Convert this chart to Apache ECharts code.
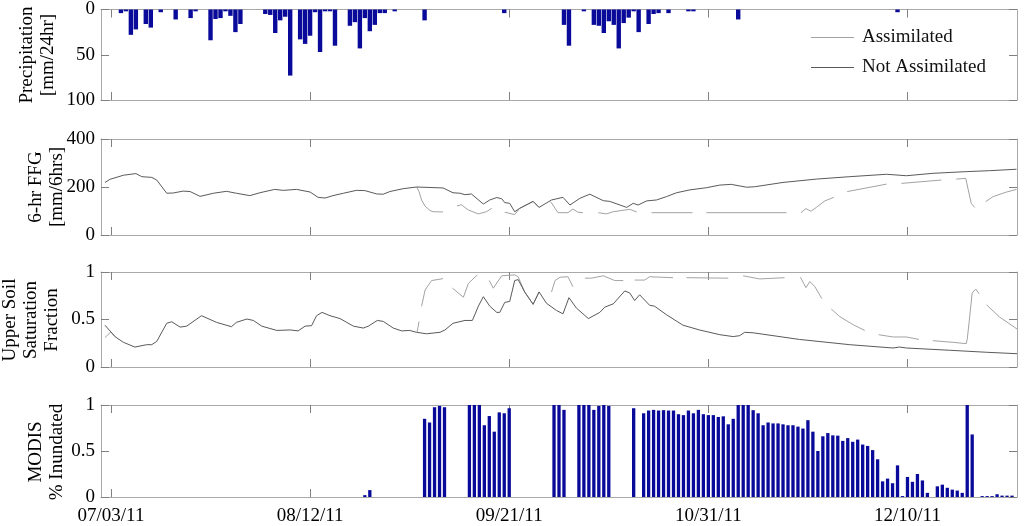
<!DOCTYPE html>
<html>
<head>
<meta charset="utf-8">
<script src="https://cdn.jsdelivr.net/npm/echarts@6/dist/echarts.min.js"></script>
<style>
  html, body { margin: 0; padding: 0; background: #fff; }
  #chart { width: 1024px; height: 526px; }
</style>
</head>
<body>
<div id="chart"></div>
<script>
// x values are days since 07/01/11
const tickDays = [2, 42, 82, 122, 162]
const tickLabels = ['07/03/11', '08/12/11', '09/21/11', '10/31/11', '12/10/11']

// daily precipitation [mm/24hr]
const precipDays = [4, 5, 6, 7, 9, 10, 12, 15, 18, 19, 22, 23, 24, 25, 26, 27, 28, 33, 34, 35, 36, 37, 38,
  40, 41, 42, 43, 44, 45, 46, 47, 50, 51, 52, 53, 54, 55, 56, 57, 59, 65, 81, 93, 94, 97,
  99, 100, 101, 102, 103, 104, 105, 106, 107, 108, 110, 111, 112, 114, 118, 119, 128, 160]
const precipMm = [4, 2, 28, 22, 16, 20, 3, 11, 9.5, 2, 34, 10.5, 9.5, 2, 7, 25, 16, 5, 6, 26, 12, 8, 73,
  33, 38, 29, 3, 47, 2, 2, 40, 18, 14, 43, 9.5, 24, 17, 4, 4, 2, 12, 4, 17, 40, 2,
  17, 18, 26, 13, 17, 43, 15, 9, 2, 25, 16, 5, 4, 4, 2, 2, 11, 3]

// 6-hr flash flood guidance [mm/6hrs], [day, value]
const ffgNotAssim = [[0.8, 219], [1.8, 232], [4.5, 249], [7.0, 256], [8.2, 243], [10.2, 240], [11.2, 229],
  [13.2, 174], [14.5, 175], [16.5, 183], [17.9, 181], [19.9, 161], [22.6, 174], [25.2, 182], [27.2, 174],
  [29.9, 164], [31.9, 176], [34.9, 190], [36.6, 186], [39.3, 190], [42.0, 179], [43.6, 157], [45.0, 154],
  [46.6, 164], [48.7, 174], [51.3, 186], [53.0, 185], [55.4, 171], [56.7, 170], [58.0, 181], [60.7, 193],
  [63.4, 200], [68.7, 196], [70.7, 176], [72.1, 174], [73.1, 168], [74.4, 171], [76.8, 129], [78.1, 146],
  [79.5, 156], [80.5, 151], [81.1, 135], [82.1, 132], [83.1, 97], [84.1, 111], [86.8, 140], [88.0, 115],
  [90.5, 146], [92.8, 157], [94.2, 125], [96.2, 153], [98.2, 170], [100.9, 143], [102.2, 140], [105.6, 115],
  [106.9, 132], [107.9, 125], [109.6, 142], [111.6, 146], [113.6, 160], [115.6, 176], [118.3, 188],
  [121.6, 197], [124.3, 208], [126.6, 211], [129.7, 199], [131.3, 201], [137.0, 219], [143.7, 233],
  [150.4, 243], [157.8, 253], [161.8, 247], [167.1, 257], [173.8, 264], [178.5, 268], [183.9, 274]]
const ffgAssim = [
  [[63.4, 200], [63.9, 180], [64.4, 146], [65.1, 120], [66.1, 102], [66.7, 97], [68.7, 96]],
  [[71.5, 121], [72.4, 126], [73.8, 104], [75.8, 88], [77.4, 97], [78.5, 111]],
  [[81.1, 95], [83.1, 85], [84.1, 111], [86.8, 140], [88.0, 115]],
  [[90.3, 139], [91.8, 93], [93.8, 93], [94.8, 108], [95.8, 95], [96.8, 93]],
  [[99.9, 93], [101.5, 88], [102.9, 97], [106.2, 107], [107.6, 96]],
  [[110.6, 93], [118.8, 93]],
  [[121.6, 93], [137.7, 93]],
  [[140.6, 93], [141.6, 110], [142.6, 99], [143.7, 115], [145.4, 142], [147.2, 157]],
  [[149.9, 181], [157.8, 212]],
  [[160.8, 215], [168.8, 229]],
  [[171.8, 233], [173.7, 236], [174.8, 132], [175.5, 115]],
  [[177.7, 139], [179.2, 160], [181.9, 179], [183.9, 190]]
]

// upper soil saturation fraction, [day, value]
const soilNotAssim = [[0.8, 0.44], [2.8, 0.32], [4.5, 0.26], [6.8, 0.21], [9.2, 0.235], [10.2, 0.235],
  [11.2, 0.27], [13.2, 0.46], [14.2, 0.476], [15.9, 0.42], [17.2, 0.43], [20.2, 0.54], [23.2, 0.47],
  [26.2, 0.424], [27.2, 0.47], [29.3, 0.505], [30.6, 0.49], [32.3, 0.43], [35.3, 0.385], [38.0, 0.39],
  [39.6, 0.38], [41.0, 0.43], [42.3, 0.435], [43.3, 0.54], [44.4, 0.575], [46.0, 0.54], [48.0, 0.51],
  [50.7, 0.43], [52.7, 0.41], [53.7, 0.43], [55.5, 0.49], [56.7, 0.48], [58.7, 0.41], [60.4, 0.38],
  [62.0, 0.385], [63.4, 0.365], [65.4, 0.35], [68.1, 0.365], [69.1, 0.39], [70.7, 0.46], [73.1, 0.49],
  [74.6, 0.49], [75.8, 0.64], [76.8, 0.74], [78.1, 0.64], [79.5, 0.575], [80.1, 0.575], [81.1, 0.68],
  [82.1, 0.69], [83.1, 0.91], [83.8, 0.92], [85.1, 0.79], [86.8, 0.66], [88.0, 0.79], [89.5, 0.67],
  [91.5, 0.595], [92.8, 0.56], [94.0, 0.73], [95.5, 0.62], [97.9, 0.51], [100.2, 0.575], [101.2, 0.63],
  [102.9, 0.665], [105.2, 0.80], [106.2, 0.78], [107.2, 0.70], [108.2, 0.76], [110.2, 0.65], [111.2, 0.64],
  [113.6, 0.55], [116.9, 0.44], [120.2, 0.39], [124.3, 0.34], [127.0, 0.32], [128.3, 0.33], [129.3, 0.365],
  [131.0, 0.36], [140.3, 0.29], [150.4, 0.235], [159.1, 0.20], [160.4, 0.21], [161.8, 0.20], [170.5, 0.176],
  [177.9, 0.155], [184, 0.14]]
const soilAssim = [
  [[0.8, 0.31], [2.0, 0.37], [2.8, 0.32]],
  [[63.5, 0.37], [63.9, 0.48]],
  [[64.4, 0.64], [65.1, 0.81], [66.4, 0.91], [68.7, 0.93]],
  [[70.6, 0.83], [72.8, 0.735], [73.8, 0.88], [75.6, 0.97]],
  [[78.0, 0.91], [78.8, 0.83], [80.5, 0.96], [83.1, 0.97], [83.8, 0.95], [85.1, 0.79], [86.8, 0.66], [88.0, 0.79]],
  [[90.5, 0.79], [91.2, 0.91], [92.2, 0.945], [93.8, 0.95], [94.8, 0.845]],
  [[97.2, 0.935], [98.5, 0.935], [100.9, 0.96], [103.2, 0.91], [104.9, 0.91]],
  [[107.2, 0.915], [109.2, 0.915], [110.2, 0.95], [114.9, 0.94]],
  [[117.6, 0.94], [126.0, 0.935]],
  [[129.0, 0.96], [132.3, 0.927], [137.3, 0.94]],
  [[140.5, 0.945], [141.6, 0.835], [142.4, 0.90], [143.4, 0.845], [144.8, 0.72]],
  [[146.7, 0.61], [148.4, 0.53], [151.1, 0.445], [153.4, 0.385]],
  [[156.2, 0.34], [159.1, 0.316], [161.8, 0.316], [164.3, 0.29]],
  [[167.1, 0.277], [171.1, 0.26], [173.8, 0.246], [174.0, 0.29], [174.4, 0.48], [175.0, 0.78], [175.7, 0.82], [176.4, 0.77]],
  [[177.9, 0.654], [180.5, 0.526], [184, 0.40]]
]

// MODIS % inundated (fraction)
const modisDays = [53, 54, 65, 66, 67, 68, 69, 74, 75, 76, 77, 78, 79, 80, 81, 82, 91, 92, 93,
  96, 97, 98, 99, 100, 101, 102, 107, 109, 110, 111, 112, 113, 114, 115, 116, 117, 118, 119, 120,
  121, 122, 123, 124, 125, 126, 127, 128, 129, 130, 131, 132, 133, 134, 135, 136, 137, 138, 139, 140,
  141, 142, 143, 144, 145, 146, 147, 148, 149, 150, 151, 152, 153, 154, 155, 156, 157, 158, 159, 160,
  161, 162, 163, 164, 165, 166, 168, 169, 170, 171, 172, 173, 174, 175, 177, 178, 179, 180, 181, 182, 183]
const modisFrac = [0.02, 0.075, 0.85, 0.81, 0.976, 0.99, 0.976, 1.0, 1.0, 1.0, 0.78, 0.88, 0.71, 0.92, 0.91, 0.965, 1.0, 1.0, 0.947,
  1.0, 1.0, 1.0, 0.947, 0.99, 1.0, 0.99, 0.965, 0.91, 0.94, 0.947, 0.94, 0.944, 0.94, 0.94, 0.90, 0.89, 0.94, 0.91, 0.947,
  0.90, 0.89, 0.89, 0.87, 0.877, 0.79, 0.85, 1.0, 1.0, 1.0, 0.944, 0.91, 0.78, 0.81, 0.80, 0.80, 0.79, 0.78, 0.78, 0.765,
  0.744, 0.835, 0.71, 0.50, 0.66, 0.695, 0.67, 0.667, 0.61, 0.64, 0.60, 0.624, 0.57, 0.555, 0.51, 0.41, 0.17, 0.20, 0.15, 0.344,
  0.01, 0.218, 0.165, 0.25, 0.18, 0.045, 0.116, 0.134, 0.10, 0.08, 0.07, 0.045, 1.0, 0.68, 0.01, 0.01, 0.01, 0.03, 0.015, 0.015, 0.015]

const FONT = 'Liberation Serif'
const frameColor = '#a9a9a9'
const tickColor = '#808080'
const barColor = '#0a0a9a'
const assimColor = '#a3a3a3'
const notAssimColor = '#5a5a5a'

// panel boxes + y-axis titles (title centre given as nameX / nameY)
const panels = [
  { top: 5, height: 95, min: 0, max: 100, interval: 50, inverse: true, name: 'Precipitation\n[mm/24hr]', nameX: 38, nameY: 55 },
  { top: 139, height: 96, min: 0, max: 400, interval: 200, inverse: false, name: '6-hr FFG\n[mm/6hrs]', nameX: 47, nameY: 187 },
  { top: 272, height: 95, min: 0, max: 1, interval: 0.5, inverse: false, name: 'Upper Soil\nSaturation\nFraction', nameX: 31, nameY: 320 },
  { top: 405, height: 95, min: 0, max: 1, interval: 0.5, inverse: false, name: 'MODIS\n% Inundated', nameX: 47, nameY: 452 }
]

function withGaps (segments) {
  const out = []
  segments.forEach((seg, k) => {
    if (k > 0) out.push([seg[0][0], '-'])
    seg.forEach(p => out.push(p))
  })
  return out
}

const grid = []
const xAxis = []
const yAxis = []
const titles = []
panels.forEach((p, i) => {
  grid.push({ left: 101, right: 7, top: p.top, height: p.height })
  ;['bottom', 'top'].forEach(pos => {
    xAxis.push({
      gridIndex: i,
      type: 'value',
      min: 0,
      max: 184,
      position: pos,
      axisLine: { show: true, onZero: false, lineStyle: { color: frameColor } },
      axisTick: { show: true, inside: true, length: 8, customValues: tickDays, lineStyle: { color: tickColor } },
      axisLabel: {
        show: pos === 'bottom' && i === panels.length - 1,
        customValues: tickDays,
        formatter: v => tickLabels[tickDays.indexOf(v)],
        fontFamily: FONT,
        fontSize: 19,
        color: '#000',
        margin: 10
      },
      splitLine: { show: false }
    })
  })
  ;['left', 'right'].forEach(pos => {
    yAxis.push({
      gridIndex: i,
      type: 'value',
      min: p.min,
      max: p.max,
      interval: p.interval,
      inverse: p.inverse,
      position: pos,
      axisLine: { show: true, onZero: false, lineStyle: { color: frameColor } },
      axisTick: { show: true, inside: true, length: 8, lineStyle: { color: tickColor } },
      axisLabel: { show: pos === 'left', fontFamily: FONT, fontSize: 19, color: '#000', margin: 6 },
      splitLine: { show: false }
    })
  })
  titles.push({
    type: 'text',
    x: p.nameX,
    y: p.nameY,
    rotation: Math.PI / 2,
    style: {
      text: p.name,
      fill: '#000',
      font: '19px "Liberation Serif"',
      align: 'center',
      verticalAlign: 'middle',
      lineHeight: 21
    }
  })
})

const option = {
  animation: false,
  backgroundColor: '#fff',
  graphic: titles,
  legend: {
    data: ['Assimilated', 'Not Assimilated'],
    orient: 'vertical',
    left: 806,
    top: 23,
    icon: 'rect',
    itemWidth: 43,
    itemHeight: 1,
    itemGap: 11,
    selectedMode: false,
    textStyle: { fontFamily: FONT, fontSize: 19, color: '#111', padding: [0, 0, 0, 3] }
  },
  grid,
  xAxis,
  yAxis,
  series: [
    {
      type: 'bar',
      xAxisIndex: 0,
      yAxisIndex: 0,
      barWidth: 4.4,
      itemStyle: { color: barColor },
      data: precipDays.map((d, k) => [d, precipMm[k]])
    },
    {
      name: 'Assimilated',
      type: 'line',
      xAxisIndex: 2,
      yAxisIndex: 2,
      symbol: 'none',
      lineStyle: { color: assimColor, width: 1 },
      itemStyle: { color: assimColor },
      data: withGaps(ffgAssim)
    },
    {
      name: 'Not Assimilated',
      type: 'line',
      xAxisIndex: 2,
      yAxisIndex: 2,
      symbol: 'none',
      lineStyle: { color: notAssimColor, width: 1 },
      itemStyle: { color: notAssimColor },
      data: ffgNotAssim
    },
    {
      name: 'Assimilated',
      type: 'line',
      xAxisIndex: 4,
      yAxisIndex: 4,
      symbol: 'none',
      lineStyle: { color: assimColor, width: 1 },
      itemStyle: { color: assimColor },
      data: withGaps(soilAssim)
    },
    {
      name: 'Not Assimilated',
      type: 'line',
      xAxisIndex: 4,
      yAxisIndex: 4,
      symbol: 'none',
      lineStyle: { color: notAssimColor, width: 1 },
      itemStyle: { color: notAssimColor },
      data: soilNotAssim
    },
    {
      type: 'bar',
      xAxisIndex: 6,
      yAxisIndex: 6,
      barWidth: 3.3,
      itemStyle: { color: barColor },
      data: modisDays.map((d, k) => [d, modisFrac[k]])
    }
  ]
}

const chart = echarts.init(document.getElementById('chart'))
chart.setOption(option)
</script>
</body>
</html>
